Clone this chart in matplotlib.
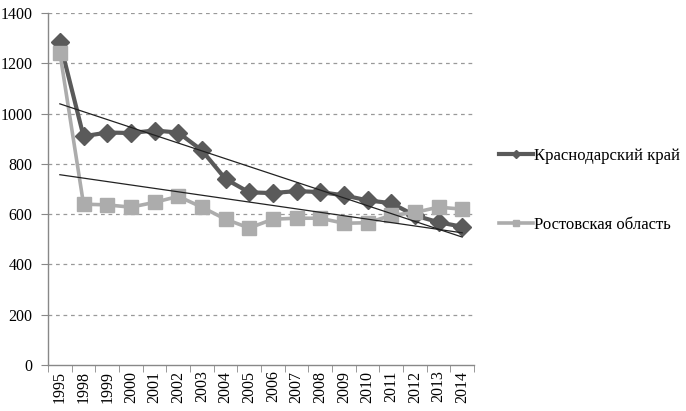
import matplotlib
matplotlib.use('Agg')
import matplotlib.pyplot as plt
import numpy as np


years = ['1995', '1998', '1999', '2000', '2001', '2002', '2003', '2004', '2005',
         '2006', '2007', '2008', '2009', '2010', '2011', '2012', '2013', '2014']

krasnodar = [1285, 910, 925, 923, 933, 925, 854, 740, 687,
             684, 692, 688, 675, 655, 644, 595, 568, 550]

rostov = [1243, 640, 637, 628, 647, 671, 628, 580, 545,
          580, 584, 584, 564, 566, 595, 607, 628, 620]

labels = ['Краснодарский край', 'Ростовская область']

yticks = [0, 200, 400, 600, 800, 1000, 1200, 1400]


def main():

    matplotlib.rc('font', family = ['Liberation Serif', 'DejaVu Serif'], size = 11.5)

    fig = plt.figure(figsize = (6.86, 4.11), dpi = 100)
    ax = fig.add_axes([0.070, 0.112, 0.621, 0.856])

    x = np.arange(len(years))

    l1, = ax.plot(x, krasnodar, color = '#5a5a5a', lw = 3, marker = 'D',
                  ms = 9, label = labels[0], zorder = 3)
    l2, = ax.plot(x, rostov, color = '#acacac', lw = 2.6, marker = 's',
                  ms = 10, label = labels[1], zorder = 4)

    # linear trend lines (like Excel)
    for series in (krasnodar, rostov):
        k, b = np.polyfit(x, series, 1)
        ax.plot([x[0], x[-1]], [b, k * x[-1] + b], color = '#222222',
                lw = 0.9, zorder = 5)

    ax.set_xlim(-0.5, len(years) - 0.5)
    ax.set_ylim(0, 1400)

    ax.set_yticks(yticks)
    ax.set_yticklabels([str(v) for v in yticks])
    ax.set_xticks(x)
    ax.set_xticklabels(years, rotation = 90)
    ax.set_xticks(np.arange(len(years) + 1) - 0.5, minor = True)

    ax.tick_params(axis = 'x', which = 'major', length = 0, pad = 4)
    ax.tick_params(axis = 'x', which = 'minor', length = 5, color = '#888888',
                   direction = 'out')
    ax.tick_params(axis = 'y', length = 5, color = '#888888', pad = 6)

    for yy in yticks[1:]:
        ax.axhline(yy, color = '#999999', lw = 0.9, ls = (0, (3, 3)), zorder = 1)

    for side in ('top', 'right'):
        ax.spines[side].set_visible(False)
    for side in ('left', 'bottom'):
        ax.spines[side].set_color('#888888')
        ax.spines[side].set_linewidth(1.0)

    fig.legend(handles = [l1, l2], loc = 'upper left',
               bbox_to_anchor = (0.728, 0.640), frameon = False,
               handlelength = 2.0, handletextpad = 0.1, labelspacing = 3.2,
               markerscale = 0.5, borderpad = 0, borderaxespad = 0,
               fontsize = 12)

    plt.savefig('out.png', dpi = 100)


if __name__ == "__main__":
    main()
